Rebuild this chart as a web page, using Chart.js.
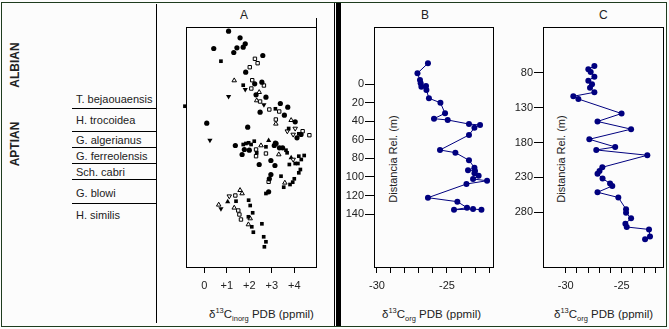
<!DOCTYPE html>
<html><head><meta charset="utf-8">
<script src="https://cdn.jsdelivr.net/npm/chart.js@4/dist/chart.umd.min.js"></script>
<style>
html,body{margin:0;padding:0;background:#fcfcfc;}
#wrap{position:relative;width:669px;height:329px;overflow:hidden;font-family:"Liberation Sans",Arial,sans-serif;color:#222;}
canvas{position:absolute;left:0;top:0;}
.t{position:absolute;font-size:11px;line-height:14px;height:14px;white-space:nowrap;}
.ln{position:absolute;background:#000;}
.rot{position:absolute;font-size:11px;line-height:14px;white-space:nowrap;transform:translate(-50%,-50%) rotate(-90deg);}
.ax{position:absolute;font-size:11.5px;line-height:14px;white-space:nowrap;}
.ax sup,.ax sub{font-size:7.5px;line-height:0;}
</style></head>
<body><div id="wrap">
<div style="position:absolute;left:1px;top:2px;width:664px;height:323px;border:1px solid #1e3c1e;"></div>
<div class="ln" style="left:156px;top:4px;width:1px;height:319px;"></div>
<div class="ln" style="left:334px;top:3px;width:1px;height:323px;"></div>
<div class="ln" style="left:336px;top:3px;width:5px;height:323px;"></div>
<div class="ln" style="left:316px;top:18px;width:1px;height:10px;"></div>
<div class="rot" style="left:15px;top:65px;font-weight:bold;font-size:12px;">ALBIAN</div>
<div class="rot" style="left:15px;top:144px;font-weight:bold;font-size:12px;">APTIAN</div>
<div id="zones"></div>
<div class="t" style="left:240px;top:8px;font-size:12px;">A</div>
<div class="t" style="left:421px;top:8px;font-size:12px;">B</div>
<div class="t" style="left:599px;top:8px;font-size:12px;">C</div>
<div class="rot" style="left:393px;top:159px;">Distancia Rel. (m)</div>
<div class="rot" style="left:561px;top:159px;">Distancia Rel. (m)</div>
<div class="ax" style="left:209px;top:307px;">δ<sup>13</sup>C<sub>inorg</sub> PDB (ppmil)</div>
<div class="ax" style="left:382px;top:307px;">δ<sup>13</sup>C<sub>org</sub> PDB (ppmil)</div>
<div class="ax" style="left:554px;top:307px;">δ<sup>13</sup>C<sub>org</sub> PDB (ppmil)</div>
<canvas id="cA" width="669" height="329"></canvas>
<canvas id="cB" width="669" height="329"></canvas>
<canvas id="cC" width="669" height="329"></canvas>
</div>
<script>
// ---------- stratigraphy ----------
const zoneNames = ["T. bejaouaensis","H. trocoidea","G. algerianus","G. ferreolensis","Sch. cabri","G. blowi","H. similis"];
const zoneLabelY = [99,120,140,156,172,193,215];
const zoneLineY = [108,131,147,163,179,203];

// ---------- Panel A : d13C inorg (x) vs relative position (y, downwards) ----------
const aCircleX = [1.08,1.59,1.82,1.45,1.73,0.42,1.31,2.60,1.84,2.56,2.24,2.30,2.74,3.38,3.71,2.48,3.56,4.04,0.11,1.93,4.30,4.12,3.16,1.38,3.11,3.19,3.34,3.48,1.68,1.78,2.00,2.44,2.96,3.14,2.96,2.89,2.86];
const aCircleY = [4.2,10.8,16.8,20.8,20.2,21.5,25.5,28.5,45.2,55.2,56.8,67.8,70.2,76.5,80.2,85.2,88.2,94.8,96.2,100.2,107.5,110.8,116.2,118.5,118.5,116.5,120.8,120.8,127.5,122.5,123.2,137.5,133.5,138.5,147.5,151.8,164.8];
const aSquareX = [0.74,1.73,3.16,3.75,4.20,1.73,1.85,1.97,2.08,2.22,2.33,2.74,3.63,3.68,4.20,4.44,4.31,4.04,3.78,4.16,4.27,4.20,3.41,4.00,3.93,3.81,3.53,2.74,1.41,1.97,2.04,2.15,1.96,2.11,2.18,2.56,2.64,2.74,2.67,-0.86];
const aSquareY = [34.2,58.2,81.8,101.5,106.8,117.5,116.5,115.8,117.5,114.2,125.8,119.8,123.2,125.8,129.2,128.5,132.5,136.5,137.5,136.5,142.5,145.8,149.2,151.8,155.2,157.5,160.2,166.5,174.2,173.2,178.5,185.8,189.8,199.8,205.2,196.8,209.8,214.8,219.8,79.2];
const aOpenSqX = [2.25,2.37,2.02,2.13,2.65,2.09,2.48,2.89,3.33,3.18,4.37,4.67,2.30,2.30,2.74,2.86,1.38,1.51,1.56,1.63];
const aOpenSqY = [31.8,36.2,40.2,53.2,58.5,61.5,74.5,82.5,84.5,92.5,104.2,108.2,122.5,129.2,126.5,154.8,168.5,183.5,187.5,192.5];
const aOpenTriX = [1.33,2.44,2.33,3.18,3.86,2.52,3.31,3.58,1.59,1.68,0.64,1.33,2.04,1.96];
const aOpenTriY = [53.5,65.2,73.5,96.8,93.2,118.5,127.5,155.8,163.2,166.5,177.8,180.8,191.5,197.5];
const aOpenTriDnX = [3.69,4.04,3.95,3.95,1.11];
const aOpenTriDnY = [104.2,101.5,107.5,132.5,169.2];
const aTriDnX = [1.82,1.08,2.65,0.25,0.74];
const aTriDnY = [62.5,69.5,77.8,113.2,181.8];
const aTriUpX = [2.86,3.86,1.04];
const aTriUpY = [113.5,130.8,174.8];
const aTicks = [0,1,2,3,4];

// ---------- Panel B ----------
const bValue = [-26.36,-27.11,-26.93,-26.88,-26.83,-26.50,-26.47,-26.29,-25.47,-25.14,-25.93,-24.95,-23.43,-22.64,-23.04,-23.43,-25.50,-24.40,-23.43,-23.04,-23.50,-23.00,-23.04,-22.74,-23.14,-22.14,-23.61,-26.36,-24.26,-23.57,-24.50,-23.14,-22.54];
const bDepth = [-22.7,-11.9,-4.6,-1.1,2.6,1.8,6.2,15.1,19.9,31.3,37.1,38.5,42.9,43.9,46.8,54.7,70.9,73.8,82.0,90.0,92.8,93.6,96.1,98.7,102.2,104.1,107.6,122.4,126.7,133.2,135.4,134.6,135.4];
const bYTicks = [0,20,40,60,80,100,120,140];

// ---------- Panel C ----------
const cValue = [-27.44,-27.98,-27.77,-27.44,-27.98,-27.65,-27.83,-27.44,-29.32,-28.87,-25.01,-27.16,-24.16,-27.89,-25.58,-27.27,-22.71,-26.73,-26.98,-27.16,-26.71,-26.04,-25.84,-27.16,-25.30,-24.61,-24.61,-24.16,-24.67,-24.55,-22.56,-22.47,-22.91];
const cDepth = [70.4,75.1,79.0,85.7,91.5,96.6,101.5,108.1,113.8,117.7,138.5,149.9,160.9,175.4,186.4,190.7,198.3,215.5,220.8,224.7,231.6,238.7,242.3,251.3,258.8,275.7,280.7,288.6,296.5,301.1,304.6,314.7,318.5];
const cYTicks = [80,130,180,230,280];
const orgXTicks = [-30,-29,-28,-27,-26,-25,-24,-23,-22];
const orgXLabels = [-30,-25];

// ---------- build stratigraphy ----------
const zones = document.getElementById('zones');
zoneNames.forEach((n,i)=>{
  const d=document.createElement('div'); d.className='t'; d.textContent=n;
  d.style.left='76px'; d.style.top=(zoneLabelY[i]-7)+'px'; zones.appendChild(d);
});
zoneLineY.forEach(y=>{
  const d=document.createElement('div'); d.className='ln';
  d.style.left='72px'; d.style.top=y+'px'; d.style.width='84px'; d.style.height='1px'; zones.appendChild(d);
});

// ---------- helpers ----------
const FONT = {family:'"Liberation Sans", Arial, sans-serif', size:11};
const pts = (xs,ys)=>xs.map((x,i)=>({x:x,y:ys[i]}));
const boxPlugin = {id:'box', afterDatasetsDraw(chart){
  const a=chart.chartArea, c=chart.ctx; c.save(); c.strokeStyle='#000'; c.lineWidth=1;
  c.strokeRect(Math.round(a.left)+0.5, Math.round(a.top)+0.5, Math.round(a.right-a.left)-1, Math.round(a.bottom-a.top)); c.restore();
}};
function xAxis(min,max,ticks,labelFn){
  return {type:'linear',min:min,max:max,
    afterBuildTicks:s=>{s.ticks=ticks.map(v=>({value:v}));},
    afterFit:s=>{s.height=40;},
    border:{display:false},
    grid:{display:true,drawOnChartArea:false,drawTicks:true,tickLength:6,color:'#000',lineWidth:1},
    ticks:{autoSkip:false,maxRotation:0,minRotation:0,padding:6,color:'#222',font:FONT,callback:labelFn}};
}
function yAxis(min,max,ticks){
  return {type:'linear',reverse:true,min:min,max:max,
    afterBuildTicks:s=>{s.ticks=ticks.map(v=>({value:v}));},
    afterFit:s=>{s.width=40;},
    border:{display:false},
    grid:{display:true,drawOnChartArea:false,drawTicks:true,tickLength:9,color:'#000',lineWidth:1},
    ticks:{autoSkip:false,padding:1,color:'#222',font:FONT,callback:v=>String(v)}};
}
const common = {responsive:false,animation:false,devicePixelRatio:1,
  plugins:{legend:{display:false},tooltip:{enabled:false},title:{display:false}}};

// ---------- Chart A ----------
const mk = (data,style,r,filled)=>({data:data,pointStyle:style,pointRadius:r,
  pointBackgroundColor:filled?'#000':'#fcfcfc',pointBorderColor:'#000',pointBorderWidth:filled?0:1,showLine:false,clip:false});
new Chart(document.getElementById('cA'),{type:'scatter',
  data:{datasets:[
    mk(pts(aCircleX,aCircleY),'circle',2.6,true),
    mk(pts(aSquareX,aSquareY),'rect',2.6,true),
    mk(pts(aOpenSqX,aOpenSqY),'rect',2.4,false),
    mk(pts(aOpenTriX,aOpenTriY),'triangle',2.6,false),
    {...mk(pts(aOpenTriDnX,aOpenTriDnY),'triangle',2.6,false),rotation:180},
    {...mk(pts(aTriDnX,aTriDnY),'triangle',3,true),rotation:180},
    mk(pts(aTriUpX,aTriUpY),'triangle',3,true)
  ]},
  options:{...common,layout:{padding:{left:186,top:27,right:352,bottom:22}},
    scales:{
      x:xAxis(-0.813,5.009,aTicks,v=>v===0?'0':'+'+v),
      y:{type:'linear',reverse:true,min:0,max:240,display:false}
    }},
  plugins:[boxPlugin]});

// ---------- Charts B, C ----------
function lineChart(id,xs,ys,xmin,xmax,ymin,ymax,yt,pad){
  new Chart(document.getElementById(id),{type:'scatter',
    data:{datasets:[{data:pts(xs,ys),showLine:true,borderColor:'#00007f',borderWidth:1,
      pointRadius:3,pointBackgroundColor:'#00007f',pointBorderWidth:0,clip:false}]},
    options:{...common,layout:{padding:pad},
      scales:{
        x:xAxis(xmin,xmax,orgXTicks,v=>orgXLabels.includes(v)?String(v):''),
        y:yAxis(ymin,ymax,yt)
      }},
    plugins:[boxPlugin]});
}
lineChart('cB',bValue,bDepth,-30.214,-21.643,-61.85,197.2,bYTicks,{left:334,top:27,right:175,bottom:22});
lineChart('cC',cValue,cDepth,-32.03,-21.22,14.53,358.4,cYTicks,{left:503,top:27,right:5,bottom:22});
</script>
</body></html>
